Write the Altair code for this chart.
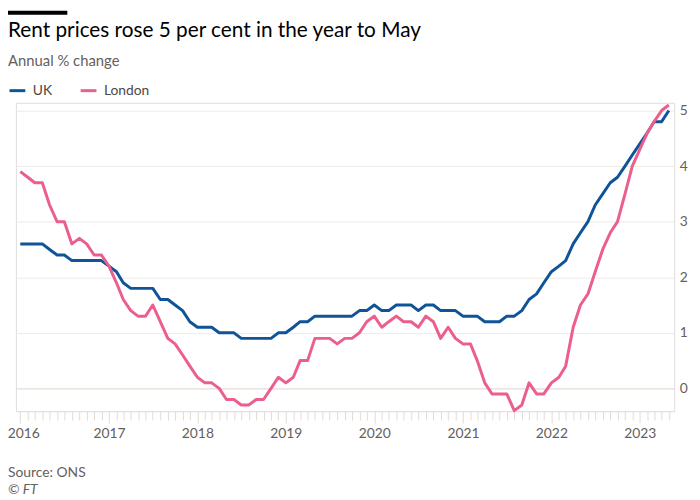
import altair as alt
import pandas as pd

# Monthly observations, Jan 2016 - May 2023
months = pd.date_range("2016-01-01", periods=89, freq="MS")

uk = [2.6, 2.6, 2.6, 2.6, 2.5, 2.4, 2.4, 2.3, 2.3, 2.3, 2.3, 2.3,
      2.2, 2.1, 1.9, 1.8, 1.8, 1.8, 1.8, 1.6, 1.6, 1.5, 1.4, 1.2,
      1.1, 1.1, 1.1, 1.0, 1.0, 1.0, 0.9, 0.9, 0.9, 0.9, 0.9, 1.0,
      1.0, 1.1, 1.2, 1.2, 1.3, 1.3, 1.3, 1.3, 1.3, 1.3, 1.4, 1.4,
      1.5, 1.4, 1.4, 1.5, 1.5, 1.5, 1.4, 1.5, 1.5, 1.4, 1.4, 1.4,
      1.3, 1.3, 1.3, 1.2, 1.2, 1.2, 1.3, 1.3, 1.4, 1.6, 1.7, 1.9,
      2.1, 2.2, 2.3, 2.6, 2.8, 3.0, 3.3, 3.5, 3.7, 3.8, 4.0, 4.2,
      4.4, 4.6, 4.8, 4.8, 5.0]

london = [3.9, 3.8, 3.7, 3.7, 3.3, 3.0, 3.0, 2.6, 2.7, 2.6, 2.4, 2.4,
          2.2, 1.9, 1.6, 1.4, 1.3, 1.3, 1.5, 1.2, 0.9, 0.8, 0.6, 0.4,
          0.2, 0.1, 0.1, 0.0, -0.2, -0.2, -0.3, -0.3, -0.2, -0.2, 0.0, 0.2,
          0.1, 0.2, 0.5, 0.5, 0.9, 0.9, 0.9, 0.8, 0.9, 0.9, 1.0, 1.2,
          1.3, 1.1, 1.2, 1.3, 1.2, 1.2, 1.1, 1.3, 1.2, 0.9, 1.1, 0.9,
          0.8, 0.8, 0.5, 0.1, -0.1, -0.1, -0.1, -0.4, -0.3, 0.1, -0.1, -0.1,
          0.1, 0.2, 0.4, 1.1, 1.5, 1.7, 2.1, 2.5, 2.8, 3.0, 3.5, 4.0,
          4.3, 4.6, 4.8, 5.0, 5.1]

series_names = ["UK", "London"]
series_colors = ["#0f5499", "#eb5e8d"]
y_ticks = [0, 1, 2, 3, 4, 5]

title_text = "Rent prices rose 5 per cent in the year to May"
subtitle_text = "Annual % change"
source_text = "Source: ONS"
credit_text = "© FT"

FONT = "Lato"
GREY = "#66605c"

df = pd.concat([
    pd.DataFrame({"date": months, "value": uk, "series": "UK"}),
    pd.DataFrame({"date": months, "value": london, "series": "London"}),
])

W, H = 666, 312

lines = alt.Chart(df).mark_line(strokeWidth=3, strokeJoin="round").encode(
    x=alt.X(
        "date:T",
        title=None,
        scale=alt.Scale(domain=[alt.DateTime(year=2015, month=12, date=14),
                                alt.DateTime(year=2023, month=5, date=23)]),
        axis=alt.Axis(
            tickCount={"interval": "month", "step": 1},
            labelExpr="month(datum.value) == 0 ? timeFormat(datum.value, '%Y') : ''",
            labelOverlap=False,
            labelFontSize=14,
            labelFont=FONT,
            labelColor=GREY,
            labelPadding=4,
            labelOffset=alt.expr("year(datum.value) == 2016 && month(datum.value) == 0 ? 3 : 0"),
            tickColor="#e3dbd3",
            tickSize=alt.expr("month(datum.value) == 0 ? 12 : 9"),
            tickWidth=1,
            domain=True,
            domainColor="#e9e2db",
            domainWidth=1,
            grid=False,
        ),
    ),
    y=alt.Y(
        "value:Q",
        title=None,
        scale=alt.Scale(domain=[-0.41, 5.14], nice=False, zero=False),
        axis=alt.Axis(
            orient="right",
            values=y_ticks,
            grid=True,
            gridColor={"condition": {"test": "datum.value === 0", "value": "#ddd3ca"},
                       "value": "#f0ebe6"},
            gridWidth=1,
            domain=False,
            ticks=False,
            labelPadding=5,
            labelAlign="left",
            labelFontSize=14,
            labelFont=FONT,
            labelColor=GREY,
        ),
    ),
    color=alt.Color(
        "series:N",
        scale=alt.Scale(domain=series_names, range=series_colors),
        sort=series_names,
        legend=alt.Legend(
            title=None,
            orient="none",
            legendX=-8,
            legendY=-22,
            direction="horizontal",
            symbolType="stroke",
            symbolSize=256,
            symbolStrokeWidth=3,
            labelFontSize=14,
            labelFont=FONT,
            labelColor="#4d4845",
            labelOffset=6,
            columnPadding=22,
        ),
    ),
)

bar = alt.Chart(pd.DataFrame({"k": [0]})).mark_rect(color="#000000").encode(
    x=alt.value(-8), x2=alt.value(52), y=alt.value(-93), y2=alt.value(-89)
)

foot = pd.DataFrame({"txt": [source_text]})
source = alt.Chart(foot).mark_text(
    align="left", baseline="alphabetic", font=FONT, fontSize=14, color=GREY
).encode(text="txt:N", x=alt.value(-8), y=alt.value(379))

cred = pd.DataFrame({"txt": [credit_text]})
credit = alt.Chart(cred).mark_text(
    align="left", baseline="alphabetic", font=FONT, fontSize=14, fontStyle="italic", color=GREY
).encode(text="txt:N", x=alt.value(-8), y=alt.value(396))

chart = alt.layer(lines, bar, source, credit).properties(
    width=W,
    height=H,
    padding={"left": 8, "right": 18, "top": 93, "bottom": 87},
    autosize=alt.AutoSizeParams(type="none"),
    title=alt.TitleParams(
        title_text,
        subtitle=subtitle_text,
        anchor="start",
        frame="group",
        dx=-8,
        dy=59,
        offset=0,
        font=FONT,
        fontSize=21,
        fontWeight="normal",
        color="#000000",
        subtitleFont=FONT,
        subtitleFontSize=15,
        subtitleColor=GREY,
        subtitlePadding=14,
    ),
).configure_view(stroke=None).configure(background="#ffffff")

chart.save("out.html", embed_options={"renderer": "svg", "actions": False})
